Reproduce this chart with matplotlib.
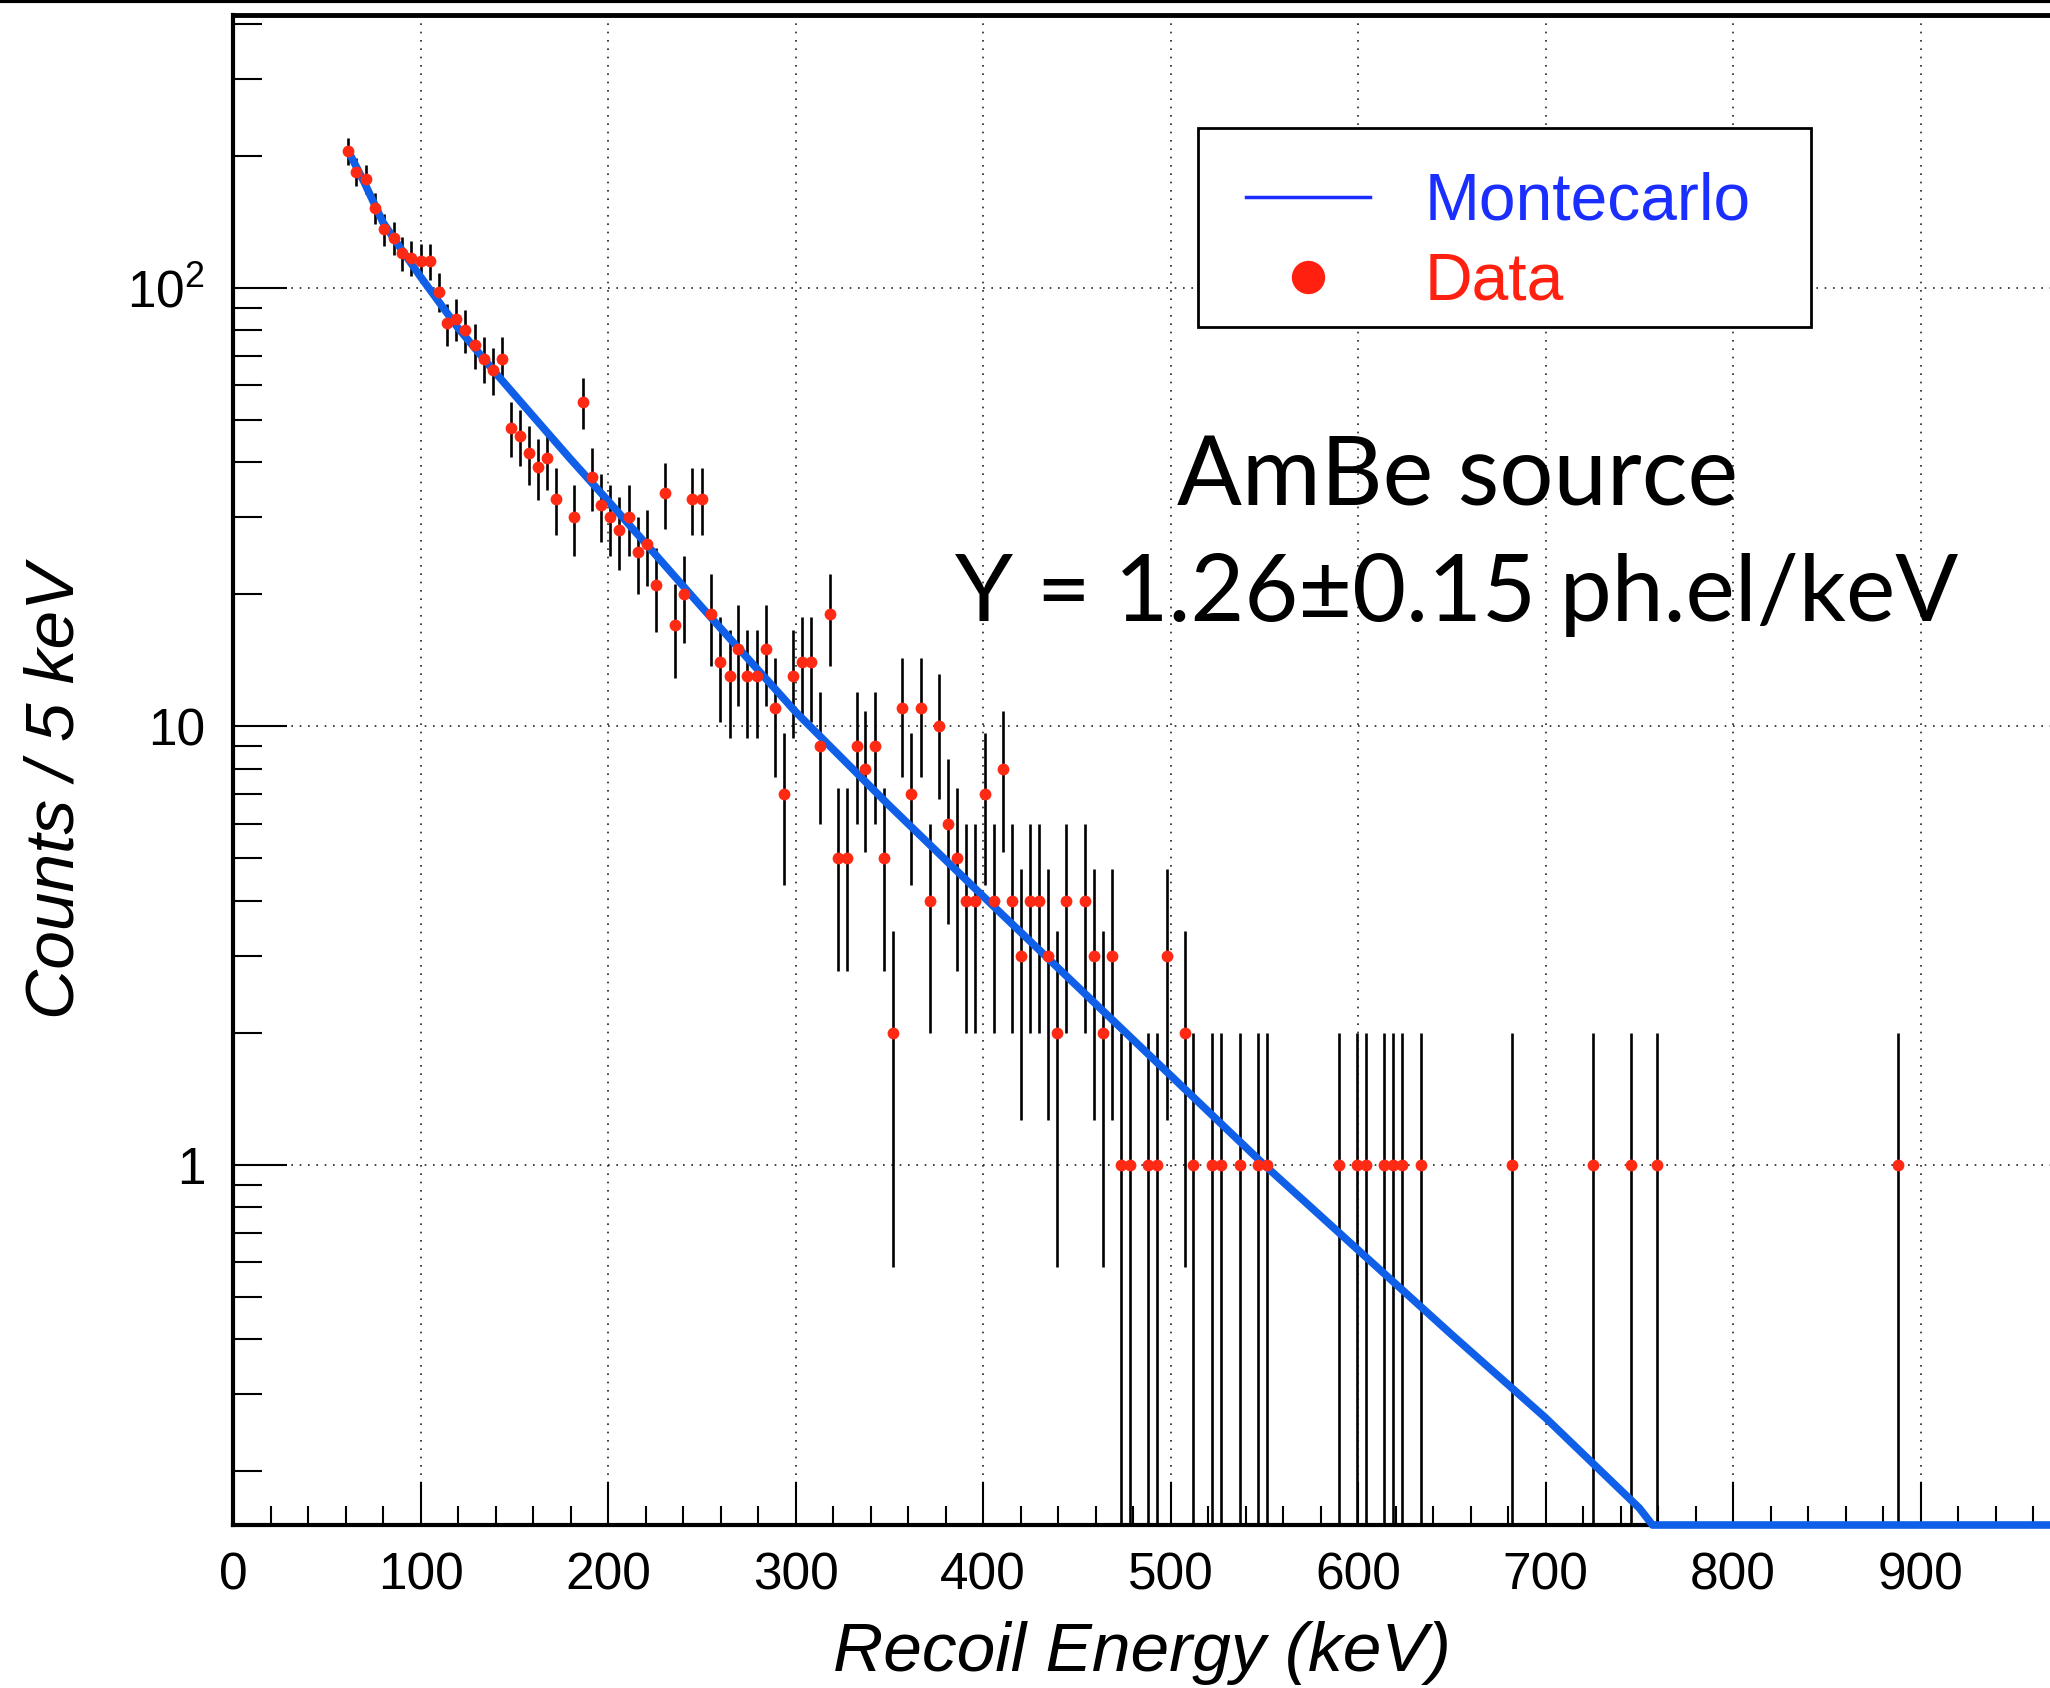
import numpy as np
import matplotlib
matplotlib.use('Agg')
import matplotlib.pyplot as plt
from matplotlib.lines import Line2D
from matplotlib.patches import Rectangle
from matplotlib.ticker import FixedLocator, FixedFormatter, NullFormatter

plt.rcParams['font.family'] = ['Liberation Sans', 'DejaVu Sans']
plt.rcParams['mathtext.fontset'] = 'custom'
plt.rcParams['mathtext.rm'] = 'Liberation Sans'
plt.rcParams['mathtext.it'] = 'Liberation Sans:italic'

# measured spectrum (recoil energy in keV, counts per bin)
energy = [61.2, 65.7, 71.0, 75.5, 80.3, 85.6, 90.2, 95.0, 100.0, 104.8,
          109.8, 114.2, 119.0, 123.8, 128.8, 133.8, 138.6, 143.4, 148.0, 152.8,
          157.7, 162.5, 167.5, 172.3, 181.7, 186.7, 191.5, 196.3, 201.2, 206.0,
          211.0, 215.8, 220.8, 225.6, 230.5, 235.7, 240.3, 245.0, 250.0, 255.1,
          259.7, 264.8, 269.4, 274.2, 279.2, 284.0, 289.0, 293.8, 298.6, 303.6,
          308.5, 313.3, 318.3, 322.7, 327.5, 332.7, 337.3, 342.3, 347.1, 352.0,
          356.9, 361.8, 366.7, 371.6, 376.4, 381.2, 386.1, 391.0, 395.9, 400.8,
          405.8, 410.5, 415.6, 420.2, 425.1, 430.0, 434.6, 439.5, 444.4, 454.2,
          459.0, 463.9, 468.8, 473.5, 478.4, 488.0, 493.0, 498.0, 507.7, 512.2,
          522.0, 527.0, 536.8, 546.6, 551.2, 590.0, 599.5, 604.0, 613.8, 618.6,
          623.5, 633.5, 682.3, 725.5, 745.3, 759.6, 888.0]
counts = [205, 184, 177, 152, 136, 130, 120, 117, 115, 115,
          98, 83, 85, 80, 74, 69, 65, 69, 48, 46,
          42, 39, 41, 33, 30, 55, 37, 32, 30, 28,
          30, 25, 26, 21, 34, 17, 20, 33, 33, 18,
          14, 13, 15, 13, 13, 15, 11, 7, 13, 14,
          14, 9, 18, 5, 5, 9, 8, 9, 5, 2,
          11, 7, 11, 4, 10, 6, 5, 4, 4, 7,
          4, 8, 4, 3, 4, 4, 3, 2, 4, 4,
          3, 2, 3, 1, 1, 1, 1, 3, 2, 1,
          1, 1, 1, 1, 1, 1, 1, 1, 1, 1,
          1, 1, 1, 1, 1, 1, 1]

# Montecarlo expectation
mc_energy = [61, 70, 80, 90, 100, 120, 140, 160, 180, 200, 250, 300, 350, 400,
             450, 500, 550, 600, 650, 700, 750, 757, 800, 900, 969]
mc_counts = [207, 174, 141, 122, 106, 81, 64, 51, 40.7, 32.7, 18.7, 10.8, 6.6, 4.1,
             2.56, 1.6, 1.0, 0.64, 0.41, 0.265, 0.165, 0, 0, 0, 0]

x_ticks = [0, 100, 200, 300, 400, 500, 600, 700, 800, 900]
x_minor = [v for v in range(0, 970, 20) if v % 100]
y_ticks = [1, 10, 100]
y_tick_labels = ['1', '10', '$10^2$']
y_minor = [0.2, 0.3, 0.4, 0.5, 0.6, 0.7, 0.8, 0.9, 2, 3, 4, 5, 6, 7, 8, 9,
           20, 30, 40, 50, 60, 70, 80, 90, 200, 300, 400]

xmin, xmax = 0, 969
ymin, ymax = 0.151, 419

fig = plt.figure(figsize=(20.5, 16.88), dpi=100)
fig.patch.set_facecolor('white')
ax = fig.add_axes([0.11366, 0.09656, 0.88634, 0.89455])
ax.set_yscale('log')
ax.set_xlim(xmin, xmax)
ax.set_ylim(ymin, ymax)

# data with poisson errors
x = np.array(energy)
y = np.array(counts, dtype=float)
err = np.sqrt(y)
ax.errorbar(x, y, yerr=err, fmt='none', ecolor='black', elinewidth=1.9,
            capsize=0, zorder=2)
ax.plot(mc_energy, np.maximum(mc_counts, ymin), color='#0f5fe8', lw=5.5,
        solid_capstyle='butt', zorder=3, clip_on=False)
ax.plot(x, y, 'o', color='#ff2a14', ms=8.5, mew=0, zorder=4)

# axes and ticks
ax.xaxis.set_major_locator(FixedLocator(x_ticks))
ax.xaxis.set_minor_locator(FixedLocator(x_minor))
ax.yaxis.set_major_locator(FixedLocator(y_ticks))
ax.yaxis.set_major_formatter(FixedFormatter(y_tick_labels))
ax.yaxis.set_minor_locator(FixedLocator(y_minor))
ax.yaxis.set_minor_formatter(NullFormatter())
ax.tick_params(axis='x', which='major', direction='in', length=31, width=1.5,
               labelsize=37, pad=19)
ax.tick_params(axis='x', which='minor', direction='in', length=14, width=1.5)
ax.tick_params(axis='y', which='major', direction='in', length=39, width=1.5,
               labelsize=37, pad=20)
ax.tick_params(axis='y', which='minor', direction='in', length=21, width=1.5)

ax.grid(True, which='major', color='#222222', lw=1.2, ls=(0, (1, 4)))
for side in ['left', 'bottom']:
    ax.spines[side].set_linewidth(3)
ax.spines['top'].set_linewidth(3.5)
ax.spines['right'].set_visible(False)

ax.set_xlabel('Recoil Energy (keV)', fontsize=50, style='italic', labelpad=15)
ax.set_ylabel('Counts / 5 keV', fontsize=50, style='italic')
ax.yaxis.set_label_coords(-0.08, 0.486)

# legend: white box with frame, entries placed inside
ax.add_patch(Rectangle((1198 / 2050, 1 - 327 / 1688), 613 / 2050, 199 / 1688,
                       transform=fig.transFigure, facecolor='white',
                       edgecolor='black', lw=2, zorder=5, clip_on=False))
mc_handle = Line2D([], [], color='#1a2eff', lw=2.5)
data_handle = Line2D([], [], ls='none', marker='o', ms=24, color='#ff2010', mew=0)
leg = ax.legend([mc_handle, data_handle], ['Montecarlo', 'Data'],
                loc='upper left', bbox_to_anchor=(1246 / 2050, 1 - 172 / 1688),
                bbox_transform=fig.transFigure, borderaxespad=0, borderpad=0,
                fontsize=47.5, frameon=False, handlelength=1.88,
                handletextpad=0.82, labelspacing=0.27)
leg.set_zorder(6)
for t, c in zip(leg.get_texts(), ['#1a2eff', '#ff2010']):
    t.set_color(c)

# annotation
fig.text(1458 / 2050, 1 - 505 / 1688, 'AmBe source', family=['Lato', 'DejaVu Sans'],
         fontsize=69, ha='center', va='baseline')
fig.text(1457 / 2050, 1 - 621 / 1688, 'Y = 1.26±0.15 ph.el/keV',
         family=['Lato', 'DejaVu Sans'], fontsize=67, ha='center', va='baseline')

# slide border at the top
fig.add_artist(Line2D([0, 1], [0.9994, 0.9994], color='black', lw=3,
                      transform=fig.transFigure))

fig.savefig('out.png', dpi=100)
